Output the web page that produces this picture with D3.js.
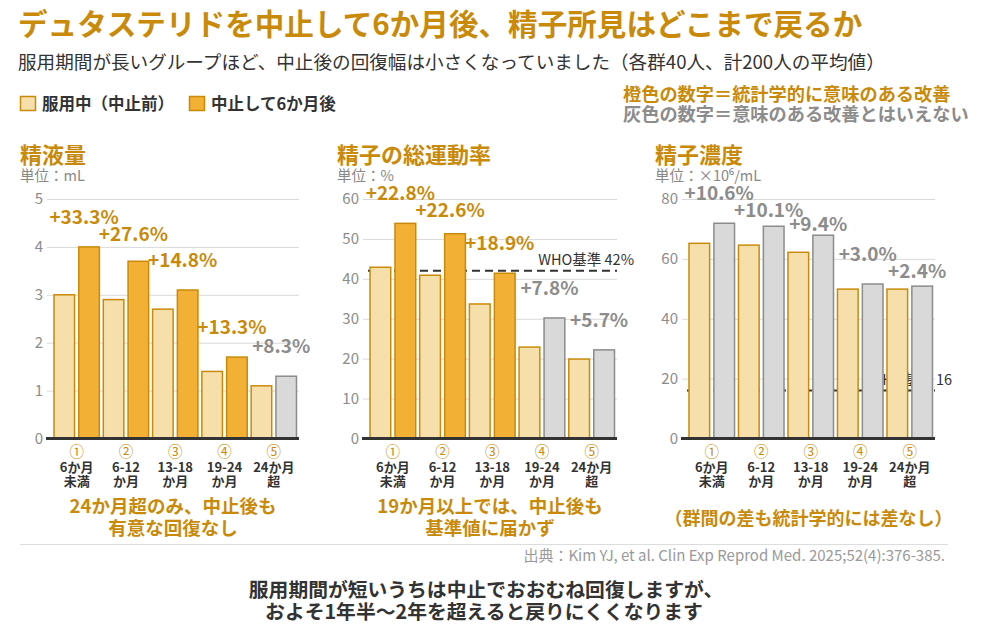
<!DOCTYPE html>
<html><head><meta charset="utf-8">
<script src="https://cdn.jsdelivr.net/npm/d3@7"></script>
<style>
html,body{margin:0;padding:0;background:#fff;}
svg{display:block;font-family:"Noto Sans CJK JP","Noto Sans",sans-serif;}
</style></head>
<body><svg id="c" width="984" height="632"></svg>
<script>
// ---- data ----
const groupMarks = ["①","②","③","④","⑤"];
const groupLine1 = ["6か月","6-12","13-18","19-24","24か月"];
const groupLine2 = ["未満","か月","か月","か月","超"];

const volumeBefore = [3.0, 2.9, 2.7, 1.4, 1.1];
const volumeAfter  = [4.0, 3.7, 3.1, 1.7, 1.3];
const volumePct    = [33.3, 27.6, 14.8, 13.3, 8.3];
const volumeSig    = [true, true, true, true, false];
const volumeTicks  = [0, 1, 2, 3, 4, 5];

const motilityBefore = [42.9, 40.9, 33.7, 22.9, 19.9];
const motilityAfter  = [53.9, 51.3, 41.4, 30.2, 22.2];
const motilityPct    = [22.8, 22.6, 18.9, 7.8, 5.7];
const motilitySig    = [true, true, true, false, false];
const motilityTicks  = [0, 10, 20, 30, 40, 50, 60];
const motilityWHO    = 42;

const concBefore = [65.2, 64.6, 62.2, 49.9, 49.9];
const concAfter  = [71.9, 70.9, 67.9, 51.6, 50.9];
const concPct    = [10.6, 10.1, 9.4, 3.0, 2.4];
const concSig    = [false, false, false, false, false];
const concTicks  = [0, 20, 40, 60, 80];
const concWHO    = 16;

const panelTitles = ["精液量", "精子の総運動率", "精子濃度"];
const panelUnits  = ["単位：mL", "単位：%", "単位：×10⁶/mL"];
const whoLabels   = [null, "WHO基準 42%", "WHO基準 16"];
const panelNotes  = [["24か月超のみ、中止後も","有意な回復なし"],["19か月以上では、中止後も","基準値に届かず"],["（群間の差も統計学的には差なし）"]];

// ---- styles ----
const GOLD = "#C98A0A", LIGHT = "#F7DFAB", ORANGE = "#F2B035", GREYF = "#D9D9D9", GREYS = "#8C8C8C", DARK = "#333";

const svg = d3.select("#c");
svg.append("rect").attr("width",984).attr("height",632).attr("fill","#fff");

// header
svg.append("text").attr("x",18).attr("y",35).attr("font-size",29.6).attr("font-weight",700).attr("fill",GOLD)
  .text("デュタステリドを中止して6か月後、精子所見はどこまで戻るか");
svg.append("text").attr("x",18).attr("y",69).attr("font-size",18.6).attr("fill",DARK)
  .text("服用期間が長いグループほど、中止後の回復幅は小さくなっていました（各群40人、計200人の平均値）");

// legend
const legend = [{label:"服用中（中止前）", fill:LIGHT, x:20},{label:"中止して6か月後", fill:ORANGE, x:189}];
legend.forEach(l=>{
  svg.append("rect").attr("x",l.x+0.5).attr("y",96.5).attr("width",15).attr("height",14).attr("fill",l.fill).attr("stroke",GOLD).attr("stroke-width",1.5);
  svg.append("text").attr("x",l.x+22).attr("y",109.5).attr("font-size",16.5).attr("font-weight",700).attr("fill",DARK).text(l.label);
});
svg.append("text").attr("x",623).attr("y",101).attr("font-size",18.2).attr("font-weight",700).attr("fill",GOLD).text("橙色の数字＝統計学的に意味のある改善");
svg.append("text").attr("x",623).attr("y",121).attr("font-size",18.2).attr("font-weight",700).attr("fill",GREYS).text("灰色の数字＝意味のある改善とはいえない");

// panels
const panels = [
  {x0:47, x1:299, tx:20, before:volumeBefore, after:volumeAfter, pct:volumePct, sig:volumeSig, ticks:volumeTicks, who:null},
  {x0:363, x1:617, tx:337, before:motilityBefore, after:motilityAfter, pct:motilityPct, sig:motilitySig, ticks:motilityTicks, who:motilityWHO},
  {x0:682, x1:935, tx:655, before:concBefore, after:concAfter, pct:concPct, sig:concSig, ticks:concTicks, who:concWHO}
];
const yTop = 199, yBot = 438.5;

panels.forEach((p,pi)=>{
  const g = svg.append("g");
  g.append("text").attr("x",p.tx).attr("y",163).attr("font-size",22).attr("font-weight",700).attr("fill",GOLD).text(panelTitles[pi]);
  g.append("text").attr("x",p.tx).attr("y",181).attr("font-size",14.5).attr("fill","#888").text(panelUnits[pi]);

  const y = d3.scaleLinear().domain([0, d3.max(p.ticks)]).range([yBot, yTop]);
  const x = d3.scaleBand().domain(d3.range(groupMarks.length)).range([p.x0+7, p.x1-2.5]).paddingInner(0.08).paddingOuter(0);
  const xi = d3.scaleBand().domain([0,1]).range([0, x.bandwidth()]).paddingInner(0.17);

  // y axis via d3 axis, styled
  const ax = g.append("g").attr("transform",`translate(${p.x0},0)`)
    .call(d3.axisLeft(y).tickValues(p.ticks).tickSize(-(p.x1-p.x0)).tickPadding(4).tickFormat(d3.format("d")));
  ax.select(".domain").remove();
  ax.selectAll(".tick line").attr("stroke","#d9d9d9").attr("stroke-width",1);
  ax.selectAll(".tick text").attr("font-size",15).attr("fill","#8c8c8c").attr("font-family","'Noto Sans CJK JP','Noto Sans',sans-serif");

  // WHO reference (behind bars)
  if (p.who !== null) {
    const wy = y(p.who);
    g.append("line").attr("x1",p.x0+5).attr("x2",p.x1).attr("y1",wy).attr("y2",wy)
      .attr("stroke",DARK).attr("stroke-width",2).attr("stroke-dasharray","8,5");
    g.append("text").attr("x",p.x1+17).attr("y",wy-6).attr("text-anchor","end").attr("font-size",14.5).attr("fill",DARK).text(whoLabels[pi]);
  }

  // bars
  const data = p.before.map((b,i)=>({i, b, a:p.after[i], pct:p.pct[i], sig:p.sig[i]}));
  const grp = g.selectAll("g.grp").data(data).enter().append("g").attr("transform",d=>`translate(${x(d.i)},0)`);
  grp.append("rect").attr("x",xi(0)).attr("width",xi.bandwidth()).attr("y",d=>y(d.b)).attr("height",d=>yBot-y(d.b))
    .attr("fill",LIGHT).attr("stroke",GOLD).attr("stroke-width",1.5);
  grp.append("rect").attr("x",xi(1)).attr("width",xi.bandwidth()).attr("y",d=>y(d.a)).attr("height",d=>yBot-y(d.a))
    .attr("fill",d=>d.sig?ORANGE:GREYF).attr("stroke",d=>d.sig?GOLD:GREYS).attr("stroke-width",1.5);

  // baseline
  g.append("line").attr("x1",p.x0-1).attr("x2",p.x1).attr("y1",yBot).attr("y2",yBot).attr("stroke",DARK).attr("stroke-width",3);

  // pct labels, stair-stepped to avoid overlap
  let prev = -Infinity;
  data.forEach(d=>{
    const top = y(d.a);
    let by = top - 23;
    if (by < prev + 17) by = Math.min(prev + 17, top - 4);
    prev = by;
    g.append("text").attr("x",x(d.i)+xi(1)+xi.bandwidth()/2-5).attr("y",by).attr("text-anchor","middle")
      .attr("font-size",19).attr("font-weight",700).attr("fill",d.sig?GOLD:GREYS).text("+"+d.pct.toFixed(1)+"%");
  });

  // x labels: one text element per group, three stacked lines
  data.forEach(d=>{
    const cx = x(d.i)+x.bandwidth()/2;
    const t = g.append("text").attr("text-anchor","middle").attr("font-weight",700).attr("fill",DARK).attr("font-size",13);
    t.append("tspan").attr("x",cx).attr("y",457).attr("font-size",14.5).attr("font-weight",400).attr("fill",GOLD).text(groupMarks[d.i]);
    t.append("tspan").attr("x",cx).attr("y",472).text(groupLine1[d.i]);
    t.append("tspan").attr("x",cx).attr("y",486).text(groupLine2[d.i]);
  });

  // notes
  const notes = panelNotes[pi];
  const cxp = (p.x0+p.x1)/2;
  const baseY = notes.length===1 ? 525 : 513;
  notes.forEach((t,k)=>{
    g.append("text").attr("x",cxp).attr("y",baseY+k*22).attr("text-anchor","middle").attr("font-size",notes.length===1?18:18.5).attr("font-weight",700).attr("fill",GOLD).text(t);
  });
});

// footer
svg.append("line").attr("x1",20).attr("x2",948).attr("y1",544.5).attr("y2",544.5).attr("stroke","#ddd").attr("stroke-width",1);
svg.append("text").attr("x",945).attr("y",561).attr("text-anchor","end").attr("font-size",15).attr("fill","#999")
  .text("出典：Kim YJ, et al. Clin Exp Reprod Med. 2025;52(4):376-385.");
svg.append("text").attr("x",486).attr("y",597).attr("text-anchor","middle").attr("font-size",19.8).attr("font-weight",700).attr("fill",DARK)
  .text("服用期間が短いうちは中止でおおむね回復しますが、");
svg.append("text").attr("x",484).attr("y",619).attr("text-anchor","middle").attr("font-size",19.8).attr("font-weight",700).attr("fill",DARK)
  .text("およそ1年半～2年を超えると戻りにくくなります");
</script></body></html>
